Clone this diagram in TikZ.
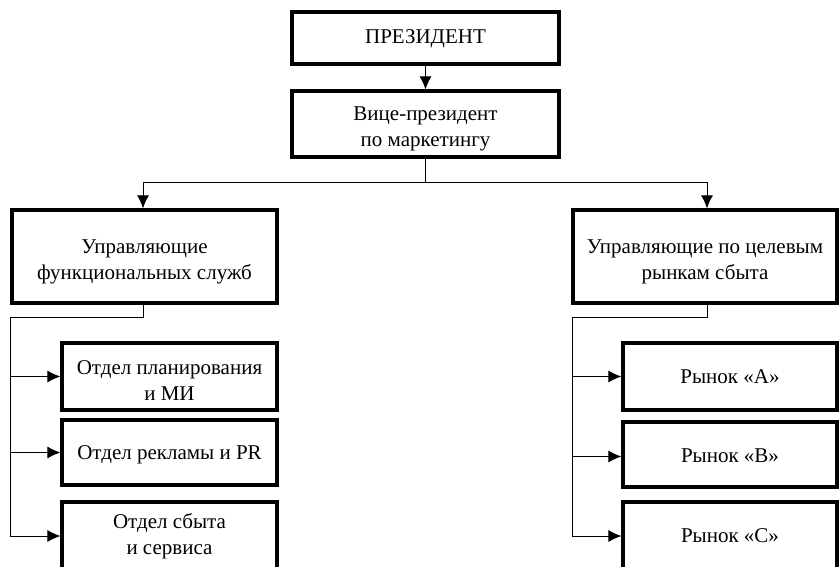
\documentclass[tikz,border=0pt]{standalone}
\usepackage{fontspec}
\setmainfont{Liberation Serif}
\usetikzlibrary{arrows.meta}
\begin{document}
\begin{tikzpicture}[x=1pt,y=-1pt,
  box/.style={draw,line width=3.2pt,rectangle,inner sep=0pt},
  txt/.style={inner sep=0pt,align=center,font=\fontsize{21}{26}\selectfont},
  conn/.style={line width=1pt},
  arr/.style={conn,-{Latex[length=13pt,width=12pt]}}]
\useasboundingbox (0,0) rectangle (839,567);
\clip (0,0) rectangle (839,567);
% boxes
\node[box,minimum width=267,minimum height=52] (pres) at (425.5,38) {};
\node[box,minimum width=267,minimum height=66] (vp) at (425.5,124) {};
\node[box,minimum width=265,minimum height=93] (lm) at (144.5,256.5) {};
\node[box,minimum width=264,minimum height=93] (rm) at (705,256.5) {};
\node[box,minimum width=215,minimum height=67] (l1) at (169.5,376.5) {};
\node[box,minimum width=215,minimum height=65] (l2) at (169.5,452.5) {};
\node[box,minimum width=215,minimum height=68] (l3) at (169.5,536) {};
\node[box,minimum width=214,minimum height=67] (r1) at (730,376.5) {};
\node[box,minimum width=214,minimum height=65] (r2) at (730,454.5) {};
\node[box,minimum width=214,minimum height=68] (r3) at (730,536) {};
% texts
\node[txt] (pres-t) at ([yshift=-0.5]pres.center) {ПРЕЗИДЕНТ};
\node[txt] (vp-t) at ([yshift=-5]vp.center) {Вице-президент\\по маркетингу};
\node[txt] (lm-t) at ([yshift=-5]lm.center) {Управляющие\\функциональных служб};
\node[txt] (rm-t) at ([yshift=-5]rm.center) {Управляющие по целевым\\рынкам сбыта};
\node[txt] (l1-t) at ([yshift=-4]l1.center) {Отдел планирования\\и МИ};
\node[txt] (l2-t) at ([yshift=-2]l2.center) {Отдел рекламы и PR};
\node[txt] (l3-t) at (l3.center) {Отдел сбыта\\и сервиса};
\node[txt] (r1-t) at (r1.center) {Рынок «A»};
\node[txt] (r2-t) at ([yshift=-1]r2.center) {Рынок «B»};
\node[txt] (r3-t) at (r3.center) {Рынок «C»};
% top
\draw[arr] (pres.south) -- (vp.north);
\coordinate (hub) at (425.5,183);
\draw[conn] (vp.south) -- (hub);
\draw[arr] (hub) -| ([xshift=-1.5]lm.north);
\draw[arr] (hub) -| ([xshift=2]rm.north);
% left branch
\coordinate (lb) at (10,317);
\draw[conn] ([xshift=-1.5]lm.south) |- (lb);
\draw[arr] (lb) |- (l1.west);
\draw[arr] (lb) |- (l2.west);
\draw[arr] (lb) |- (l3.west);
% right branch
\coordinate (rb) at (572,317);
\draw[conn] ([xshift=2]rm.south) |- (rb);
\draw[arr] (rb) |- (r1.west);
\draw[arr] (rb) |- ([yshift=-2]r2.west);
\draw[arr] (rb) |- (r3.west);
\end{tikzpicture}
\end{document}
